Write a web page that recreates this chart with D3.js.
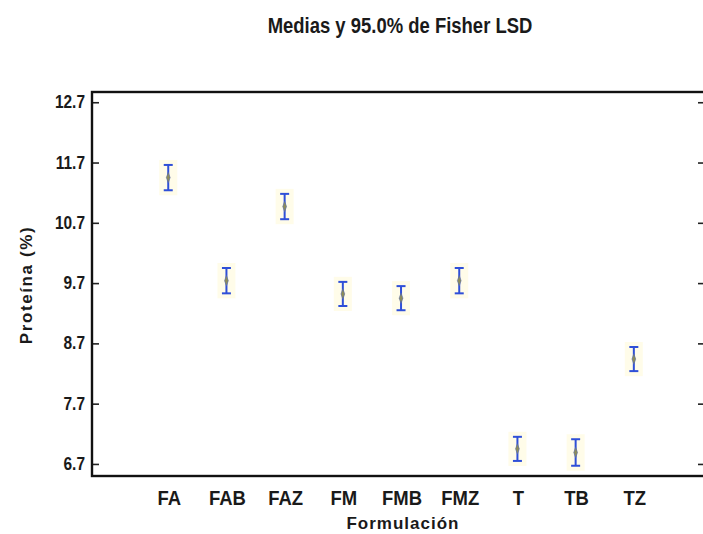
<!DOCTYPE html>
<html>
<head>
<meta charset="utf-8">
<script src="https://cdn.jsdelivr.net/npm/d3@7"></script>
<style>
  body { margin: 0; background: #fff; overflow: hidden; }
  text { fill: #1a1a1a; font-family: "Liberation Sans", Arial, sans-serif; font-weight: bold; }
</style>
</head>
<body>
<svg id="chart" width="703" height="534"></svg>
<script>
// categories and values
var categories = ['FA', 'FAB', 'FAZ', 'FM', 'FMB', 'FMZ', 'T', 'TB', 'TZ'];
var means = [11.45, 9.74, 10.97, 9.52, 9.45, 9.74, 6.95, 6.89, 8.44];
var halfLSD = [0.21, 0.21, 0.21, 0.20, 0.20, 0.21, 0.20, 0.22, 0.20];
var yTicks = [6.7, 7.7, 8.7, 9.7, 10.7, 11.7, 12.7];

var svg = d3.select('#chart');
// the right edge of the frame falls just outside the picture
var mLeft = 92, mRight = 706, mTop = 92, mBottom = 476;

var x = d3.scaleLinear().domain([-1.31, 9.24]).range([mLeft, mRight]);
var y = d3.scaleLinear().domain([6.5, 12.87]).range([mBottom, mTop]);

function narrowText(sel, px, py, squeeze) {
  return sel.append('text')
    .attr('transform', 'translate(' + px + ',' + py + ') scale(' + squeeze + ',1)');
}

// title
narrowText(svg, 400, 33, 0.84)
  .attr('text-anchor', 'middle')
  .style('font-size', '22px')
  .text('Medias y 95.0% de Fisher LSD');

// left axis, ticks pointing inward
var yAxis = svg.append('g')
  .attr('transform', 'translate(' + mLeft + ',0)')
  .call(d3.axisRight(y).tickValues(yTicks).tickSize(7).tickFormat(''));
yAxis.select('.domain').remove();
yAxis.selectAll('line').attr('stroke', '#222').attr('stroke-width', 1.6);

yTicks.forEach(function(t) {
  narrowText(svg, mLeft - 7, y(t) + 6, 0.86)
    .attr('text-anchor', 'end')
    .style('font-size', '18px')
    .text(t.toFixed(1));
});

// right side ticks
var yAxisR = svg.append('g')
  .attr('transform', 'translate(' + mRight + ',0)')
  .call(d3.axisLeft(y).tickValues(yTicks).tickSize(8).tickFormat(''));
yAxisR.select('.domain').remove();
yAxisR.selectAll('line').attr('stroke', '#222').attr('stroke-width', 1.6);

// frame
svg.append('rect')
  .attr('x', mLeft).attr('y', mTop)
  .attr('width', mRight - mLeft).attr('height', mBottom - mTop)
  .attr('fill', 'none').attr('stroke', '#111').attr('stroke-width', 2.4);

// x labels
categories.forEach(function(c, i) {
  narrowText(svg, x(i) + 1, 505, 0.88)
    .attr('text-anchor', 'middle')
    .style('font-size', '21px')
    .text(c);
});

// axis titles
svg.append('text')
  .attr('x', 403).attr('y', 529)
  .attr('text-anchor', 'middle')
  .style('font-size', '17px')
  .style('letter-spacing', '1px')
  .text('Formulación');

svg.append('text')
  .attr('transform', 'translate(32,285) rotate(-90)')
  .attr('text-anchor', 'middle')
  .style('font-size', '17px')
  .style('letter-spacing', '1.6px')
  .text('Proteína (%)');

// intervals
var g = svg.selectAll('.bar')
  .data(means)
  .enter().append('g').attr('class', 'bar');

g.append('rect')
  .attr('x', function(d, i) { return x(i) - 9; })
  .attr('y', function(d, i) { return y(d + halfLSD[i]) - 5; })
  .attr('width', 18)
  .attr('height', function(d, i) { return y(d - halfLSD[i]) - y(d + halfLSD[i]) + 10; })
  .attr('fill', '#fffbe3').attr('opacity', 0.8);

g.append('line')
  .attr('x1', function(d, i) { return x(i); })
  .attr('x2', function(d, i) { return x(i); })
  .attr('y1', function(d, i) { return y(d + halfLSD[i]); })
  .attr('y2', function(d, i) { return y(d - halfLSD[i]); })
  .attr('stroke', '#2f4fd8').attr('stroke-width', 2);

[1, -1].forEach(function(s) {
  g.append('line')
    .attr('x1', function(d, i) { return x(i) - 4.5; })
    .attr('x2', function(d, i) { return x(i) + 4.5; })
    .attr('y1', function(d, i) { return y(d + s * halfLSD[i]); })
    .attr('y2', function(d, i) { return y(d + s * halfLSD[i]); })
    .attr('stroke', '#2f4fd8').attr('stroke-width', 2);
});

g.append('path')
  .attr('d', d3.symbol(d3.symbolDiamond, 22))
  .attr('transform', function(d, i) { return 'translate(' + x(i) + ',' + y(d) + ') scale(0.75,1.2)'; })
  .attr('fill', '#8c8c5a').attr('stroke', '#5a6aa8').attr('stroke-width', 0.6);
</script>
</body>
</html>
